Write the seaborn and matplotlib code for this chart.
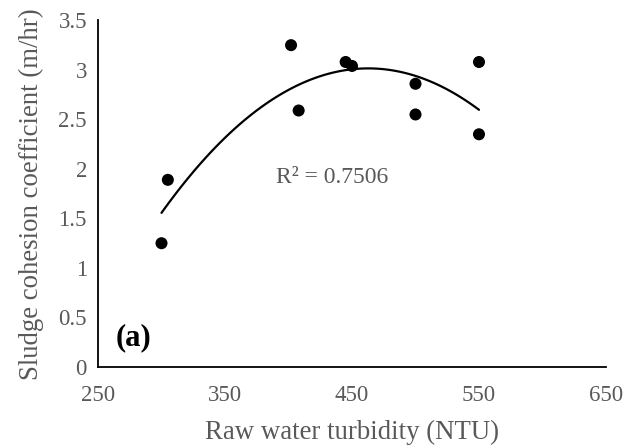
import matplotlib
matplotlib.use("Agg")
import matplotlib.pyplot as plt
import seaborn as sns
import pandas as pd

turbidity = [300, 305, 402, 408, 445, 450, 500, 500, 550, 550]
cohesion = [1.25, 1.89, 3.25, 2.59, 3.08, 3.04, 2.86, 2.55, 3.08, 2.35]
x_ticks = [250, 350, 450, 550, 650]
y_ticks = [0, 0.5, 1, 1.5, 2, 2.5, 3, 3.5]
y_tick_labels = ["0", "0.5", "1", "1.5", "2", "2.5", "3", "3.5"]
r2_label = "R² = 0.7506"
panel_label = "(a)"

df = pd.DataFrame({"turbidity": turbidity, "cohesion": cohesion})

sns.set_style("white")
plt.rcParams["font.family"] = ["Liberation Serif", "DejaVu Serif"]

fig = plt.figure(figsize=(6.26, 4.45), dpi=100)
ax = fig.add_axes([98 / 626, 1 - 367 / 445, (606 - 98) / 626, (367 - 20.4) / 445])

sns.regplot(data=df, x="turbidity", y="cohesion", order=2, ci=None, ax=ax,
            scatter_kws=dict(s=75, color="black", edgecolor="none", alpha=1),
            line_kws=dict(color="black", lw=1.6))

ax.set_xlim(250, 650)
ax.set_ylim(0, 3.5)
ax.set_xticks(x_ticks)
ax.set_yticks(y_ticks)
ax.set_yticklabels(y_tick_labels)

gray = "#595959"
ax.tick_params(axis="both", direction="out", length=5, width=1.2, color="black",
               labelcolor=gray, labelsize=16.5, pad=3)
ax.tick_params(axis="x", pad=8)
for side in ["top", "right"]:
    ax.spines[side].set_visible(False)
for side in ["left", "bottom"]:
    ax.spines[side].set_color("black")
    ax.spines[side].set_linewidth(1.3)

ax.set_xlabel("Raw water turbidity (NTU)", fontsize=19.3, color=gray, labelpad=10)
ax.set_ylabel("Sludge cohesion coefficient (m/hr)", fontsize=19.3, color=gray, labelpad=10)

ax.text(390.5, 1.91, r2_label, fontsize=17, color=gray, va="center", ha="left")
ax.text(264, 0.30, panel_label, fontsize=22, fontweight="bold", color="black",
        va="center", ha="left")

fig.savefig("out.png", dpi=100)
